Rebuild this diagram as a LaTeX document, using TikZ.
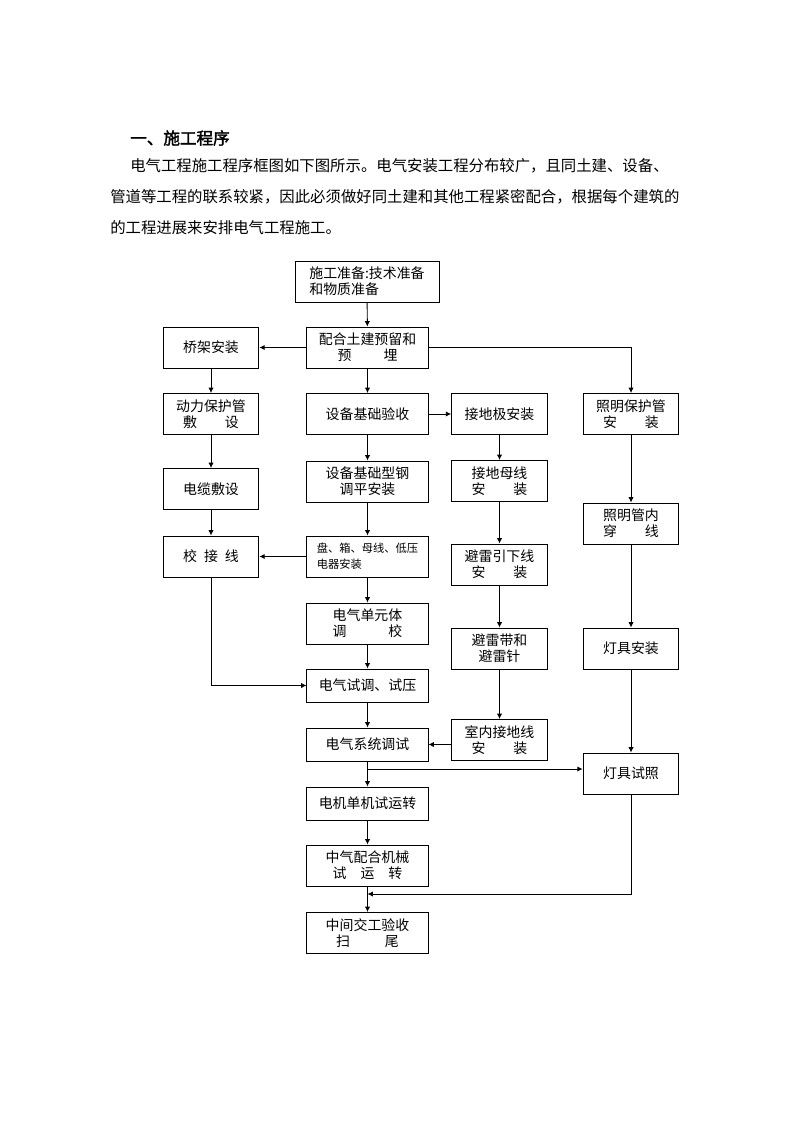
\documentclass[tikz,border=0pt]{standalone}
\usepackage{fontspec}
\newfontfamily\cjk{Noto Sans CJK SC}[AutoFakeBold=2]
\usetikzlibrary{arrows.meta}
\newcommand\boxfont{\cjk\fontsize{10.5}{12}\selectfont}
\newcommand\smallboxfont{\cjk\fontsize{8.5}{12}\selectfont}
\newcommand\bodyfont{\cjk\fontsize{11.6}{14}\selectfont}
\begin{document}
\begin{tikzpicture}[x=0.0265cm,y=-0.0265cm,
				>={Latex[length=4pt,width=4pt]},
				box/.style={draw,line width=0.7pt,align=center,inner sep=1pt,font=\boxfont,minimum height=1.087cm},
				sbox/.style={box,minimum width=2.54cm},
				cbox/.style={box,minimum width=3.21cm},
				lowbox/.style={cbox,minimum height=0.875cm},
				txt/.style={anchor=west,inner sep=0pt,font=\bodyfont},
				flow/.style={->,line width=0.7pt}]
\useasboundingbox (0,0) rectangle (793,1122);
% text above the chart
\node[txt] (title) at (130,138) {\fontsize{12.5}{14}\selectfont\bfseries 一、施工程序};
\node[txt] (line1) at (130,166) {电气工程施工程序框图如下图所示。电气安装工程分布较广，且同土建、设备、};
\node[txt] (line2) at (110,197) {管道等工程的联系较紧，因此必须做好同土建和其他工程紧密配合，根据每个建筑的};
\node[txt] (line3) at (110,228) {的工程进展来安排电气工程施工。};
% centre column
\node[box,minimum width=3.816cm,align=left] (prep) at (367,281.5) {施工准备:技术准备\\和物质准备};
\node[cbox] (peihe) at (367.5,347.5) {配合土建预留和\\预\hspace{2.3em}埋};
\node[cbox] (yanshou) at (367.5,414) {设备基础验收};
\node[cbox] (xinggang) at (367.5,481.5) {设备基础型钢\\调平安装};
\node[cbox,align=left,font=\smallboxfont] (pan) at (367.5,556.5) {盘、箱、母线、低压\\电器安装};
\node[cbox] (danyuan) at (367.5,623.5) {电气单元体\\调\hspace{3em}校};
\node[lowbox] (shitiao) at (367.5,685.5) {电气试调、试压};
\node[lowbox] (xitong) at (367.5,744.5) {电气系统调试};
\node[lowbox] (dianji) at (367.5,803.5) {电机单机试运转};
\node[cbox] (jixie) at (367.5,865.5) {中气配合机械\\试\hspace{1em}运\hspace{1em}转};
\node[cbox] (zhongjian) at (367.5,933) {中间交工验收\\扫\hspace{2.5em}尾};
% left column
\node[sbox] (qiaojia) at (211,347.5) {桥架安装};
\node[sbox] (dongli) at (211,414) {动力保护管\\敷\hspace{2em}设};
\node[sbox] (dianlan) at (211,489) {电缆敷设};
\node[sbox] (jiaojie) at (211,556.5) {校\hspace{0.5em}接\hspace{0.5em}线};
% grounding column
\node[sbox] (jiediji) at (499.5,414) {接地极安装};
\node[sbox] (muxian) at (499.5,481) {接地母线\\安\hspace{2em}装};
\node[sbox] (yinxia) at (499.5,564.5) {避雷引下线\\安\hspace{2em}装};
\node[sbox] (bileidai) at (499.5,648.5) {避雷带和\\避雷针};
\node[sbox] (shinei) at (499.5,740) {室内接地线\\安\hspace{2em}装};
% lighting column
\node[sbox] (zmbhg) at (631,414) {照明保护管\\安\hspace{2em}装};
\node[sbox] (guannei) at (631,523.5) {照明管内\\穿\hspace{2em}线};
\node[sbox] (dengju) at (631,648.5) {灯具安装};
\node[sbox] (shizhao) at (631,773.5) {灯具试照};
% connectors
\draw[flow] (prep) -- (peihe);
\draw[flow] (peihe) -- (qiaojia);
\draw[flow] (peihe.east) -| (zmbhg.north);
\draw[flow] (peihe) -- (yanshou);
\draw[flow] (qiaojia) -- (dongli);
\draw[flow] (dongli) -- (dianlan);
\draw[flow] (dianlan) -- (jiaojie);
\draw[flow] (yanshou) -- (jiediji);
\draw[flow] (yanshou) -- (xinggang);
\draw[flow] (xinggang) -- (pan);
\draw[flow] (pan) -- (jiaojie);
\draw[flow] (pan) -- (danyuan);
\draw[flow] (danyuan) -- (shitiao);
\draw[flow] (jiaojie) |- (shitiao);
\draw[flow] (shitiao) -- (xitong);
\draw[flow] (jiediji) -- (muxian);
\draw[flow] (muxian) -- (yinxia);
\draw[flow] (yinxia) -- (bileidai);
\draw[flow] (bileidai) -- (shinei);
\draw[flow] (shinei.west |- xitong.east) -- (xitong.east);
\draw[flow] (zmbhg) -- (guannei);
\draw[flow] (guannei) -- (dengju);
\draw[flow] (dengju) -- (shizhao);
\draw[flow] (xitong) -- (dianji);
\coordinate (fork) at (367.5,769);
\draw[flow] (fork) -- (fork -| shizhao.west);
\draw[flow] (dianji) -- (jixie);
\draw[flow] (jixie) -- (zhongjian);
\coordinate (join) at (367.5,894);
\draw[flow] (shizhao) |- (join);
\end{tikzpicture}
\end{document}
